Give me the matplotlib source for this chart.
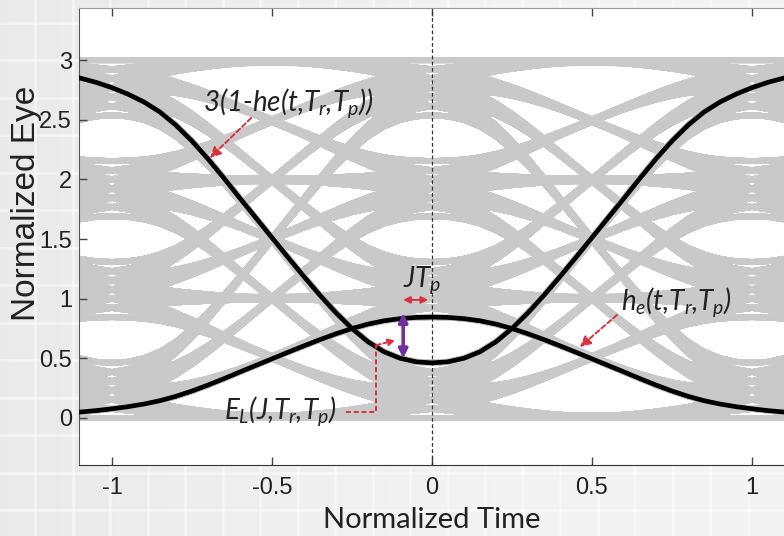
import itertools
import numpy as np
import matplotlib
matplotlib.use("Agg")
import matplotlib.pyplot as plt
from matplotlib.collections import LineCollection

# ===========================
# DATA
# ===========================
# pulse response he(t) for t = 0 .. 1.6, step 0.05 (symmetric around t = 0)
STEP = 0.05
HE_HALF = [0.846, 0.843, 0.833, 0.815, 0.787, 0.750, 0.706, 0.657, 0.605, 0.551,
           0.496, 0.441, 0.386, 0.330, 0.276, 0.226, 0.182, 0.145, 0.117, 0.095,
           0.077, 0.062, 0.050, 0.040, 0.031, 0.024, 0.018, 0.013, 0.009, 0.006,
           0.004, 0.002, 0.000]
PAM_LEVELS = [0, 1, 2, 3]          # PAM4 symbol levels
SYMBOL_SLOTS = [-2, -1, 0, 1, 2]   # symbol positions (UI) seen in the window
VIEW_HALF = 22                     # window = +-1.1 in steps of 0.05

X_TICKS = [-1, -0.5, 0, 0.5, 1]
X_LABELS = ["-1", "-0.5", "0", "0.5", "1"]
Y_TICKS = [0, 0.5, 1, 1.5, 2, 2.5, 3]
Y_LABELS = ["0", "0.5", "1", "1.5", "2", "2.5", "3"]

RED = "#d8303c"
PURPLE = "#7030a0"
GRAY = "#c9c9c9"

plt.rcParams["font.family"] = ["Liberation Sans", "DejaVu Sans"]
plt.rcParams["axes.unicode_minus"] = False
plt.rcParams["mathtext.fontset"] = "custom"
plt.rcParams["mathtext.it"] = "Lato:italic"
plt.rcParams["mathtext.rm"] = "Lato:italic"
plt.rcParams["mathtext.default"] = "it"


def main():
    # full pulse, zero tail outside +-1.6
    he_core = np.array(HE_HALF[::-1] + HE_HALF[1:])
    n_core = len(HE_HALF) - 1
    pad = 64
    he_pad = np.zeros(2 * pad + 1)
    he_pad[pad - n_core:pad + n_core + 1] = he_core

    n_view = np.arange(-VIEW_HALF, VIEW_HALF + 1)
    t_view = n_view * STEP
    per_ui = int(round(1 / STEP))

    # eye traces: sum of shifted pulses for every symbol pattern
    H = np.array([he_pad[n_view - per_ui * k + pad] for k in SYMBOL_SLOTS])
    A = np.array(list(itertools.product(PAM_LEVELS, repeat=len(SYMBOL_SLOTS))))
    Y = A @ H
    segs = np.stack([np.broadcast_to(t_view, Y.shape), Y], axis=-1)

    he_view = he_pad[n_view + pad]

    fig = plt.figure(figsize=(7.84, 5.36), dpi=100)

    # tiled grey backdrop
    bg = fig.add_axes([0, 0, 1, 1], zorder=-5)
    grad = np.linspace(0.86, 0.95, 256) ** 0.6
    grad = np.clip(grad, 0, 0.95)
    bg.imshow(np.tile(grad, (10, 1)), cmap="gray", vmin=0, vmax=1,
              aspect="auto", extent=[0, 784, 0, 536])
    for gx in np.arange(-2, 784, 37.5):
        bg.axvline(gx, color="white", lw=2, alpha=0.45)
    for gy in np.arange(26, 536, 37.5):
        bg.axhline(gy, color="white", lw=2, alpha=0.45)
    bg.set_xlim(0, 784)
    bg.set_ylim(0, 536)
    bg.axis("off")

    ax = fig.add_axes([79 / 784, 71 / 536, 1 - 79 / 784, 457 / 536])
    ax.set_facecolor("white")

    ax.add_collection(LineCollection(segs, colors=GRAY, linewidths=4.2,
                                     capstyle="butt", zorder=1))

    ax.axvline(0, color="#333333", lw=0.9, ls=(0, (3, 2)), zorder=2)

    ax.plot(t_view, he_view, color="black", lw=3.4, zorder=3)
    ax.plot(t_view, 3 * (1 - he_view), color="black", lw=3.4, zorder=3)

    # annotations
    txt = dict(family=["Lato", "DejaVu Sans"], style="italic", fontsize=20,
               color="#222222", ha="center", va="center", zorder=6)
    arr = dict(arrowstyle="-|>", color=RED, lw=1.4, ls=(0, (2.5, 1.5)),
               mutation_scale=16, shrinkA=0, shrinkB=0)

    ax.text(-0.45, 2.64, "3(1-he(t,$T_r$,$T_p$))", **txt)
    ax.annotate("", xy=(-0.694, 2.18), xytext=(-0.565, 2.515),
                arrowprops=arr, zorder=5)

    ax.text(0.765, 0.97, "$h_e$(t,$T_r$,$T_p$)", **txt)
    ax.annotate("", xy=(0.462, 0.595), xytext=(0.578, 0.863),
                arrowprops=arr, zorder=5)

    ax.text(-0.03, 1.16, "$JT_p$", **txt)
    ax.annotate("", xy=(-0.012, 0.99), xytext=(-0.09, 0.99),
                arrowprops=dict(arrowstyle="<|-|>", color=RED, lw=1.4,
                                mutation_scale=10, shrinkA=0, shrinkB=0),
                zorder=5)
    ax.annotate("", xy=(-0.09, 0.50), xytext=(-0.09, 0.88),
                arrowprops=dict(arrowstyle="<|-|>", color=PURPLE, lw=2.6,
                                mutation_scale=13, shrinkA=0, shrinkB=0),
                zorder=5)

    ax.text(-0.475, 0.06, "$E_L$(J,$T_r$,$T_p$)", **txt)
    ax.plot([-0.269, -0.175, -0.175], [0.05, 0.05, 0.61], color=RED,
            lw=1.4, ls=(0, (2.5, 1.5)), zorder=5)
    ax.annotate("", xy=(-0.115, 0.65), xytext=(-0.175, 0.61),
                arrowprops=dict(arr, mutation_scale=10), zorder=5)

    # axes styling
    ax.set_xlim(-1.103, 1.1)
    ax.set_ylim(-0.394, 3.437)
    ax.set_xticks(X_TICKS)
    ax.set_xticklabels(X_LABELS)
    ax.set_yticks(Y_TICKS)
    ax.set_yticklabels(Y_LABELS)
    ax.tick_params(axis="both", direction="in", length=6, width=1,
                   colors="#444444", labelcolor="#222222", labelsize=17)
    ax.tick_params(axis="x", top=True, pad=9)
    ax.tick_params(axis="y", pad=5)
    ax.spines["right"].set_visible(False)
    ax.spines["top"].set_color("#9a9a9a")
    ax.spines["left"].set_color("#555555")
    ax.spines["bottom"].set_color("#333333")

    ax.set_ylabel("Normalized Eye", fontsize=24, color="#222222")
    ax.yaxis.set_label_coords(-0.053, 0.573)
    ax.set_xlabel("Normalized Time", family=["Lato", "DejaVu Sans"],
                  fontsize=21, color="#222222", va="top")
    ax.xaxis.set_label_coords(0.5, -0.092)

    fig.savefig("out.png", dpi=100)


if __name__ == "__main__":
    main()
